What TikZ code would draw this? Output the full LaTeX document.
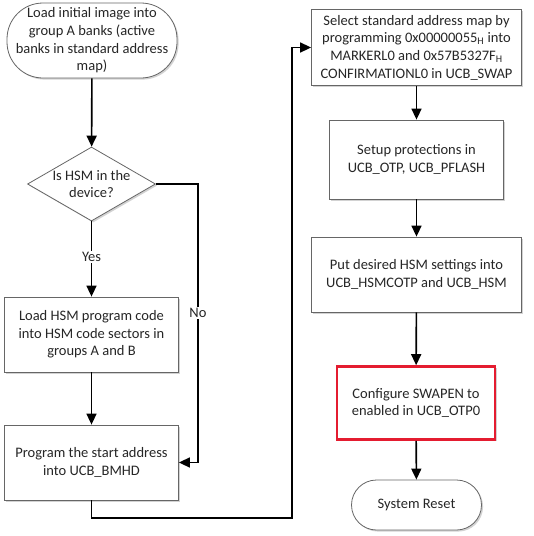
\documentclass[tikz,border=0pt]{standalone}
\usepackage{fontspec}
\setmainfont{Carlito}
\usetikzlibrary{shapes.geometric,shadows,arrows.meta}
\definecolor{alertred}{RGB}{228,28,48}
\tikzset{
  stepbox/.style={draw=black!60,line width=0.8pt,fill=white,text=black!85,align=center,
    inner sep=0pt,font=\fontsize{14.5}{17.7}\selectfont,
    drop shadow={shadow xshift=1.6pt,shadow yshift=-1.6pt,fill=black!35,opacity=0.5}},
  term/.style={stepbox,rounded corners=#1},
  decision/.style={stepbox,diamond},
  flow/.style={line width=1.6pt,-{Triangle[width=10pt,length=11pt]}},
  lbl/.style={fill=white,inner sep=1.5pt,text=black!85,font=\fontsize{14.5}{17.7}\selectfont}
}
\begin{document}
\begin{tikzpicture}[x=1pt,y=-1pt]
\useasboundingbox (0,0) rectangle (534,536);
\node[term=36pt,minimum width=170pt,minimum height=75pt] (start) at (92,40.5)
  {Load initial image into\\group A banks (active\\banks in standard address\\map)};
\node[decision,minimum width=128pt,minimum height=74pt] (dec) at (91.5,184) {};
\node[align=center,text=black!85,font=\fontsize{14.5}{17.7}\selectfont] (dectext) at (dec.center) {Is HSM in the\\device?};
\node[stepbox,minimum width=174pt,minimum height=75pt] (hsm) at (91.5,334.5)
  {Load HSM program code\\into HSM code sectors in\\groups A and B};
\node[stepbox,minimum width=174pt,minimum height=75pt] (bmhd) at (91.5,462.5)
  {Program the start address\\into UCB\_BMHD};
\node[stepbox,minimum width=210pt,minimum height=76pt] (sel) at (416.5,47.5)
  {Select standard address map by\\programming 0x00000055\textsubscript{H} into\\MARKERL0 and 0x57B5327F\textsubscript{H}\\CONFIRMATIONL0 in UCB\_SWAP};
\node[stepbox,minimum width=174pt,minimum height=79pt] (prot) at (416.5,159.5)
  {Setup protections in\\UCB\_OTP, UCB\_PFLASH};
\node[stepbox,minimum width=210pt,minimum height=75pt] (put) at (416.5,274.5)
  {Put desired HSM settings into\\UCB\_HSMCOTP and UCB\_HSM};
\node[stepbox,draw=alertred,line width=2.6pt,minimum width=158pt,minimum height=73pt] (swap) at (416,403)
  {Configure SWAPEN to\\enabled in UCB\_OTP0};
\node[term=25pt,minimum width=130pt,minimum height=50pt] (reset) at (416.5,505)
  {System Reset};
\coordinate (nox) at (198,0);
\coordinate (loop) at (292,518);
\draw[flow] (start) -- (dec);
\draw[flow] (dec) -- (hsm);
\draw[flow] (hsm) -- (bmhd);
\draw[flow] (dec.east) -| (nox |- bmhd.east) -- (bmhd.east);
\draw[flow] (bmhd.south) |- (loop) |- (sel.west);
\draw[flow] (sel) -- (prot);
\draw[flow] (prot) -- (put);
\draw[flow] (put) -- (swap);
\draw[flow] (swap) -- (reset);
\node[lbl] (yes) at (91.5,257) {Yes};
\node[lbl] (no) at (198,313) {No};
\end{tikzpicture}
\end{document}
